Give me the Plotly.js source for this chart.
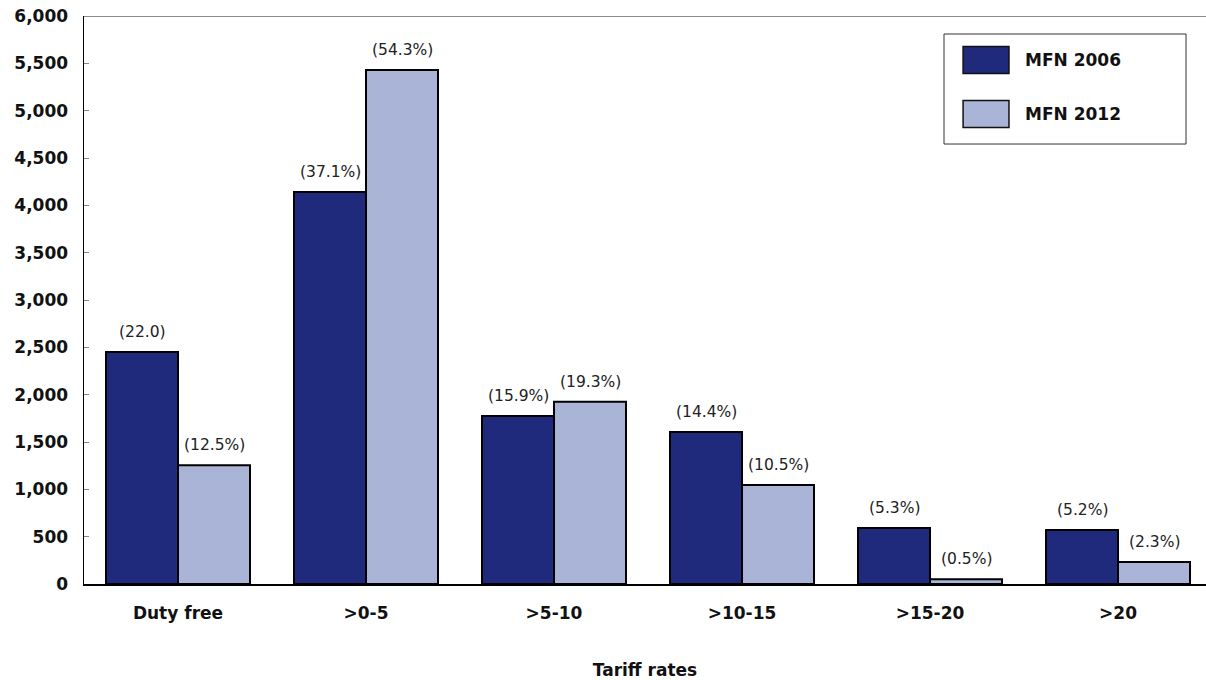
<!DOCTYPE html>
<html>
<head>
<meta charset="utf-8">
<script src="https://cdn.plot.ly/plotly-3.0.1.min.js"></script>
<style>html,body{margin:0;padding:0;background:#fff;overflow:hidden}#chart{width:1206px;height:680px}</style>
</head>
<body>
<div id="chart"></div>
<script>
var categories = ["Duty free", ">0-5", ">5-10", ">10-15", ">15-20", ">20"];
var mfn2006 = [2450, 4140, 1775, 1605, 592, 570];
var mfn2012 = [1255, 5430, 1925, 1045, 50, 232];
var labels2006 = ["(22.0)", "(37.1%)", "(15.9%)", "(14.4%)", "(5.3%)", "(5.2%)"];
var labels2012 = ["(12.5%)", "(54.3%)", "(19.3%)", "(10.5%)", "(0.5%)", "(2.3%)"];
var seriesNames = ["MFN 2006", "MFN 2012"];
var colors = ["#202A7C", "#AAB4D7"];

var tickFont = {family: "DejaVu Sans, Verdana, sans-serif", size: 17, color: "#111", weight: "bold"};
var labelFont = {family: "DejaVu Sans, Verdana, sans-serif", size: 15.5, color: "#222"};

var traces = [
  {type: "bar", name: seriesNames[0], x: categories, y: mfn2006,
   marker: {color: colors[0], line: {color: "#000", width: 2}}, hoverinfo: "x+y"},
  {type: "bar", name: seriesNames[1], x: categories, y: mfn2012,
   marker: {color: colors[1], line: {color: "#000", width: 2}}, hoverinfo: "x+y"}
];

var annotations = [];
var off = 36;
for (var i = 0; i < categories.length; i++) {
  annotations.push({x: categories[i], y: mfn2006[i], xref: "x", yref: "y", text: labels2006[i],
    showarrow: false, xshift: -off, yanchor: "bottom", yshift: 9, font: labelFont});
  annotations.push({x: categories[i], y: mfn2012[i], xref: "x", yref: "y", text: labels2012[i],
    showarrow: false, xshift: off, yanchor: "bottom", yshift: 9, font: labelFont});
}

// custom legend (box, swatches, texts) in paper coordinates
var shapes = [
  {type: "line", xref: "paper", yref: "y", x0: 0, x1: 1, y0: 6000, y1: 6000, line: {color: "#666", width: 1.5}},
  {type: "rect", xref: "paper", yref: "paper", x0: 0.7665, x1: 0.9822, y0: 0.7746, y1: 0.9683,
   line: {color: "#333", width: 1}, fillcolor: "#fff"}
];
var legY = [0.9225, 0.8275];
for (var k = 0; k < 2; k++) {
  shapes.push({type: "rect", xref: "paper", yref: "paper", x0: 0.7835, x1: 0.8244,
    y0: legY[k] - 0.0236, y1: legY[k] + 0.0236, line: {color: "#111", width: 1.5}, fillcolor: colors[k]});
  annotations.push({xref: "paper", yref: "paper", x: 0.8365, y: legY[k], xanchor: "left", yanchor: "middle",
    text: seriesNames[k], showarrow: false, font: tickFont});
}

var layout = {
  width: 1206, height: 680,
  margin: {l: 84, r: 0, t: 16, b: 96},
  paper_bgcolor: "#fff", plot_bgcolor: "#fff",
  barmode: "group", bargap: 0.234, bargroupgap: 0,
  showlegend: false,
  xaxis: {type: "category", range: [-0.5, 5.468], showline: true, linecolor: "#000", linewidth: 1.5,
    ticks: "", tickfont: tickFont, ticklabelstandoff: 13, showgrid: false, zeroline: false,
    title: {text: "Tariff rates", font: tickFont, standoff: 44}, automargin: false},
  yaxis: {range: [0, 6000], dtick: 500, tickformat: ",d", showline: true, linecolor: "#000", linewidth: 1.5,
    ticks: "inside", ticklen: 5, tickcolor: "#888", tickwidth: 1, tickfont: tickFont, ticklabelstandoff: 11,
    showgrid: false, zeroline: false, automargin: false},
  shapes: shapes,
  annotations: annotations
};

Plotly.newPlot("chart", traces, layout, {displayModeBar: false, staticPlot: true});
</script>
</body>
</html>
